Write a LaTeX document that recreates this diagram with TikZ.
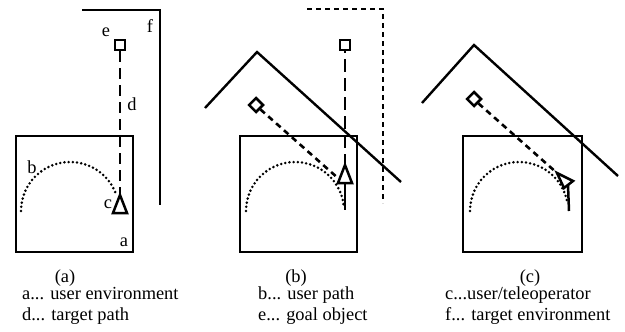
\documentclass[tikz,border=0pt]{standalone}
\usepackage{fontspec}
\setmainfont{Liberation Serif}
\usetikzlibrary{shapes.geometric}

\begin{document}
\begin{tikzpicture}[
    x=1pt, y=-1pt,
    font=\fontsize{18.4}{22}\selectfont,
    wall/.style={line width=2.4pt},
    envbox/.style={draw, line width=2.4pt},
    targetenv/.style={line width=2.4pt, dash pattern=on 5pt off 4pt},
    goalbox/.style={draw, line width=2.5pt, minimum size=10pt, inner sep=0pt},
    goaldiamond/.style={draw, diamond, line width=2.5pt, minimum size=15pt, inner sep=0pt},
    userpath/.style={line width=2.8pt, dash pattern=on 0pt off 4.2pt, line cap=round},
    targetpath/.style={line width=2.6pt, dash pattern=on 11pt off 6pt},
    goalpath/.style={line width=2.6pt, dash pattern=on 6pt off 4.5pt},
    tele/.style={line width=2.5pt, line join=miter},
    stem/.style={line width=2.5pt},
    letter/.style={inner sep=0pt},
    caption/.style={inner sep=0pt, anchor=base west}
  ]
    \useasboundingbox (0,0) rectangle (625,332);

    % (a)
    \draw[envbox] (16,136) rectangle (133,252);
    \draw[wall] (82,10) -- (160,10) -- (160,205);
    \node[goalbox] (goalA) at (120,45) {};
    \draw[userpath] (21,211) arc[start angle=180, end angle=340, radius=49];
    \coordinate (teleA) at (120,195);
    \draw[tele] (teleA) -- (127,213) -- (113,213) -- cycle;
    \draw[targetpath] (goalA.south) -- (teleA);
    \node[letter] at (150,26) {f};
    \node[letter] at (106,32) {e};
    \node[letter] at (132,104) {d};
    \node[letter] at (32,167) {b};
    \node[letter] at (108,204) {c};
    \node[letter] at (124,242) {a};

    % (b)
    \draw[envbox] (240,136) rectangle (357,252);
    \draw[wall] (205,108) -- (257,52) -- (401,182);
    \draw[targetenv] (307,9) -- (383,9) -- (383,203);
    \node[goalbox] (goalB) at (345,45) {};
    \node[goaldiamond] (objB) at (256,105) {};
    \draw[userpath] (246,211) arc[start angle=180, end angle=352, radius=49];
    \coordinate (teleB) at (345,165);
    \draw[tele] (teleB) -- (352,183) -- (338,183) -- cycle;
    \draw[stem] (345,183) -- (345,210);
    \draw[targetpath, dash pattern=on 13pt off 6pt, dash phase=11pt] (goalB.south) -- (teleB);
    \draw[goalpath] (objB.south east) -- (339,179);

    % (c)
    \draw[envbox] (463,136) rectangle (582,252);
    \draw[wall] (422,103) -- (474,45) -- (618,176);
    \node[goaldiamond] (objC) at (474,99) {};
    \draw[userpath] (470,211) arc[start angle=180, end angle=348, radius=49];
    \coordinate (teleC) at (557,173);
    \draw[tele] (teleC) -- (573,181) -- (564,188) -- cycle;
    \draw[stem] (568,185) -- (569,211);
    \draw[goalpath] (objC.south east) -- (teleC);

    % captions
    \node[inner sep=0pt, anchor=base] at (65,282) {(a)};
    \node[inner sep=0pt, anchor=base] at (296,282) {(b)};
    \node[inner sep=0pt, anchor=base] at (530,282) {(c)};
    \node[caption] at (22,299) {a... user environment};
    \node[caption] at (22,320) {d... target path};
    \node[caption] at (258,299) {b... user path};
    \node[caption] at (258,320) {e... goal object};
    \node[caption] at (445,299) {c...user/teleoperator};
    \node[caption] at (445,320) {f... target environment};
  \end{tikzpicture}
\end{document}
